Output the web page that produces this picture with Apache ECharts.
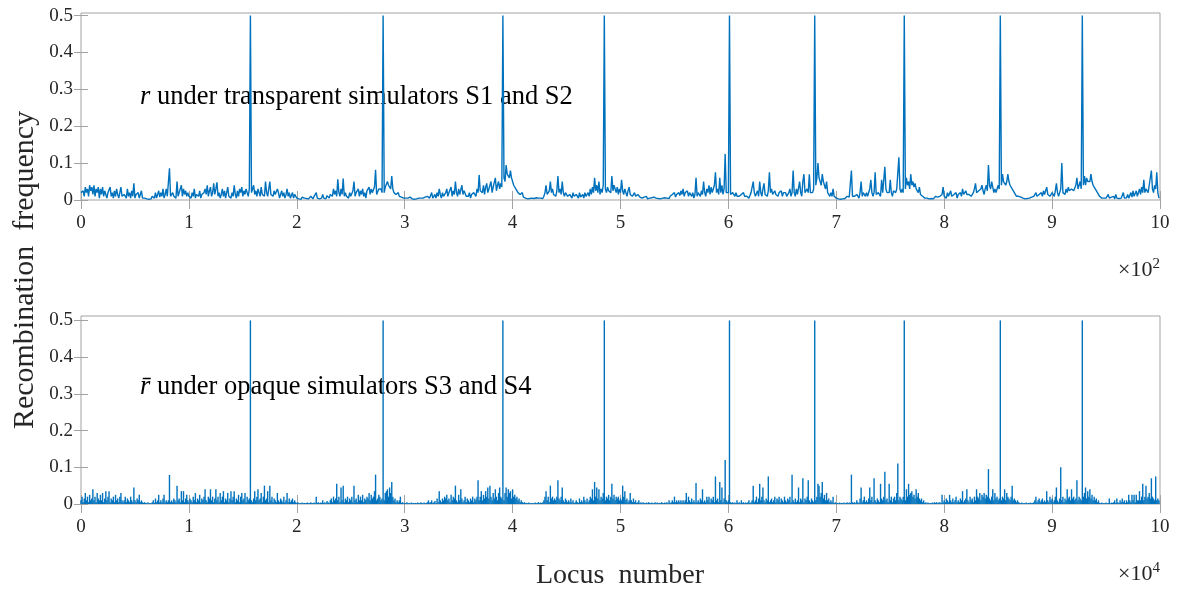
<!DOCTYPE html>
<html>
<head>
<meta charset="utf-8">
<script src="https://cdn.jsdelivr.net/npm/echarts@6/dist/echarts.min.js"></script>
<style>
  html, body { margin: 0; padding: 0; background: #fff; }
  #chart { width: 1185px; height: 589px; }
</style>
</head>
<body>
<div id="chart"></div>
<script>
// r per locus, panel 1 (loci 0..999)
var topValues = [
  0.02, 0.015, 0.025, 0.01, 0.035, 0.02, 0.03, 0.01, 0.04, 0.025, 0.035, 0.015, 0.04, 0.01, 0.03, 0.02, 0.035, 0.005, 0.03, 0.015,
  0.035, 0.01, 0.025, 0.03, 0.005, 0.02, 0.015, 0.035, 0.01, 0.02, 0.005, 0.025, 0.01, 0.03, 0.015, 0.005, 0.02, 0.035, 0.01, 0.005,
  0.015, 0.02, 0.005, 0.03, 0.01, 0.02, 0.005, 0.025, 0.01, 0.045, 0.005, 0.015, 0.01, 0.02, 0.005, 0.01, 0.025, 0.005, 0.01, 0.005,
  0.01, 0.003, 0.005, 0.002, 0.005, 0.003, 0.01, 0.015, 0.005, 0.02, 0.005, 0.01, 0.025, 0.008, 0.02, 0.01, 0.03, 0.005, 0.015, 0.03,
  0.01, 0.005, 0.086, 0.01, 0.005, 0.02, 0.01, 0.015, 0.005, 0.05, 0.01, 0.02, 0.015, 0.04, 0.01, 0.03, 0.015, 0.025, 0.01, 0.02,
  0.01, 0.015, 0.005, 0.02, 0.01, 0.03, 0.005, 0.015, 0.02, 0.01, 0.025, 0.005, 0.015, 0.01, 0.02, 0.03, 0.015, 0.04, 0.01, 0.025,
  0.035, 0.01, 0.02, 0.045, 0.015, 0.03, 0.048, 0.01, 0.02, 0.005, 0.015, 0.03, 0.01, 0.025, 0.005, 0.02, 0.035, 0.01, 0.015, 0.005,
  0.02, 0.01, 0.04, 0.015, 0.005, 0.025, 0.01, 0.03, 0.02, 0.035, 0.01, 0.025, 0.015, 0.03, 0.02, 0.01, 0.03, 0.5, 0.02, 0.03,
  0.04, 0.015, 0.025, 0.01, 0.03, 0.02, 0.01, 0.035, 0.015, 0.02, 0.01, 0.05, 0.02, 0.01, 0.03, 0.05, 0.015, 0.02, 0.01, 0.025,
  0.015, 0.01, 0.03, 0.02, 0.005, 0.015, 0.025, 0.01, 0.02, 0.005, 0.015, 0.03, 0.01, 0.02, 0.005, 0.01, 0.02, 0.005, 0.015, 0.01,
  0.005, 0.01, 0.003, 0.005, 0.002, 0.008, 0.003, 0.005, 0.002, 0.004, 0.008, 0.003, 0.005, 0.01, 0.005, 0.003, 0.01, 0.005, 0.02, 0.005,
  0.01, 0.003, 0.008, 0.005, 0.015, 0.005, 0.01, 0.003, 0.012, 0.008, 0.005, 0.015, 0.02, 0.01, 0.03, 0.015, 0.025, 0.01, 0.056, 0.02,
  0.01, 0.03, 0.015, 0.058, 0.01, 0.02, 0.01, 0.015, 0.005, 0.02, 0.01, 0.015, 0.025, 0.05, 0.01, 0.02, 0.015, 0.03, 0.01, 0.025,
  0.015, 0.03, 0.01, 0.02, 0.005, 0.025, 0.02, 0.035, 0.015, 0.03, 0.02, 0.025, 0.035, 0.082, 0.015, 0.02, 0.03, 0.025, 0.03, 0.02,
  0.5, 0.02, 0.035, 0.03, 0.05, 0.04, 0.045, 0.03, 0.065, 0.03, 0.02, 0.025, 0.015, 0.02, 0.02, 0.01, 0.015, 0.008, 0.01, 0.005,
  0.008, 0.005, 0.01, 0.005, 0.003, 0.008, 0.005, 0.003, 0.005, 0.002, 0.005, 0.003, 0.008, 0.005, 0.003, 0.005, 0.01, 0.005, 0.003, 0.008,
  0.005, 0.01, 0.015, 0.005, 0.01, 0.02, 0.005, 0.01, 0.015, 0.005, 0.02, 0.01, 0.03, 0.015, 0.005, 0.02, 0.01, 0.015, 0.02, 0.03,
  0.01, 0.02, 0.015, 0.035, 0.01, 0.025, 0.015, 0.05, 0.02, 0.01, 0.03, 0.015, 0.02, 0.04, 0.015, 0.025, 0.02, 0.01, 0.015, 0.01,
  0.02, 0.005, 0.015, 0.01, 0.02, 0.015, 0.01, 0.03, 0.02, 0.068, 0.025, 0.03, 0.02, 0.04, 0.015, 0.035, 0.045, 0.02, 0.03, 0.025,
  0.05, 0.02, 0.035, 0.03, 0.06, 0.025, 0.04, 0.05, 0.03, 0.045, 0.035, 0.5, 0.06, 0.05, 0.095, 0.07, 0.07, 0.06, 0.08, 0.06,
  0.05, 0.04, 0.045, 0.03, 0.035, 0.02, 0.025, 0.015, 0.01, 0.02, 0.008, 0.01, 0.005, 0.008, 0.003, 0.005, 0.004, 0.003, 0.005, 0.002,
  0.004, 0.003, 0.006, 0.003, 0.005, 0.002, 0.005, 0.008, 0.004, 0.01, 0.02, 0.04, 0.015, 0.01, 0.025, 0.05, 0.02, 0.03, 0.015, 0.02,
  0.01, 0.025, 0.065, 0.02, 0.03, 0.015, 0.05, 0.02, 0.01, 0.02, 0.015, 0.01, 0.005, 0.015, 0.01, 0.005, 0.02, 0.01, 0.005, 0.015,
  0.01, 0.005, 0.02, 0.008, 0.01, 0.015, 0.005, 0.02, 0.01, 0.015, 0.02, 0.01, 0.03, 0.015, 0.035, 0.02, 0.06, 0.025, 0.04, 0.02,
  0.05, 0.015, 0.03, 0.02, 0.04, 0.5, 0.03, 0.02, 0.035, 0.025, 0.03, 0.02, 0.065, 0.025, 0.04, 0.03, 0.02, 0.035, 0.015, 0.03,
  0.02, 0.055, 0.025, 0.015, 0.03, 0.02, 0.01, 0.025, 0.035, 0.015, 0.02, 0.01, 0.015, 0.02, 0.01, 0.005, 0.015, 0.01, 0.008, 0.012,
  0.005, 0.01, 0.008, 0.005, 0.01, 0.003, 0.008, 0.005, 0.003, 0.006, 0.004, 0.008, 0.003, 0.005, 0.01, 0.004, 0.006, 0.003, 0.008, 0.005,
  0.003, 0.006, 0.01, 0.005, 0.008, 0.004, 0.01, 0.006, 0.015, 0.01, 0.02, 0.008, 0.015, 0.01, 0.02, 0.012, 0.025, 0.015, 0.03, 0.01,
  0.02, 0.015, 0.025, 0.01, 0.02, 0.015, 0.01, 0.02, 0.005, 0.015, 0.06, 0.01, 0.02, 0.015, 0.01, 0.025, 0.015, 0.05, 0.02, 0.01,
  0.03, 0.02, 0.04, 0.015, 0.035, 0.02, 0.03, 0.04, 0.075, 0.02, 0.03, 0.015, 0.06, 0.02, 0.04, 0.015, 0.03, 0.125, 0.02, 0.015,
  0.02, 0.5, 0.015, 0.01, 0.02, 0.015, 0.01, 0.02, 0.01, 0.005, 0.01, 0.008, 0.015, 0.01, 0.02, 0.01, 0.005, 0.01, 0.015, 0.005,
  0.01, 0.02, 0.015, 0.05, 0.02, 0.01, 0.015, 0.025, 0.01, 0.05, 0.02, 0.01, 0.03, 0.045, 0.015, 0.02, 0.01, 0.025, 0.075, 0.02,
  0.03, 0.015, 0.02, 0.025, 0.015, 0.02, 0.01, 0.02, 0.015, 0.025, 0.01, 0.02, 0.015, 0.02, 0.01, 0.015, 0.02, 0.03, 0.01, 0.02,
  0.08, 0.02, 0.01, 0.03, 0.015, 0.02, 0.05, 0.02, 0.01, 0.05, 0.07, 0.02, 0.015, 0.03, 0.02, 0.07, 0.02, 0.015, 0.02, 0.03,
  0.5, 0.04, 0.06, 0.1, 0.06, 0.05, 0.04, 0.07, 0.05, 0.04, 0.03, 0.05, 0.02, 0.015, 0.01, 0.02, 0.01, 0.03, 0.01, 0.005,
  0.005, 0.008, 0.003, 0.005, 0.002, 0.005, 0.003, 0.006, 0.004, 0.005, 0.01, 0.005, 0.008, 0.01, 0.08, 0.01, 0.005, 0.01, 0.005, 0.015,
  0.01, 0.005, 0.02, 0.05, 0.01, 0.02, 0.015, 0.01, 0.02, 0.01, 0.015, 0.03, 0.055, 0.02, 0.01, 0.02, 0.075, 0.015, 0.01, 0.02,
  0.02, 0.01, 0.055, 0.02, 0.015, 0.09, 0.03, 0.02, 0.015, 0.02, 0.055, 0.02, 0.01, 0.025, 0.03, 0.02, 0.03, 0.025, 0.116, 0.03,
  0.02, 0.03, 0.02, 0.5, 0.03, 0.06, 0.04, 0.05, 0.03, 0.07, 0.04, 0.05, 0.035, 0.045, 0.03, 0.035, 0.02, 0.035, 0.015, 0.02,
  0.01, 0.015, 0.005, 0.01, 0.005, 0.008, 0.003, 0.005, 0.004, 0.006, 0.003, 0.005, 0.01, 0.005, 0.008, 0.004, 0.01, 0.005, 0.015, 0.035,
  0.01, 0.015, 0.005, 0.02, 0.01, 0.015, 0.025, 0.01, 0.005, 0.015, 0.01, 0.02, 0.005, 0.015, 0.01, 0.02, 0.01, 0.03, 0.015, 0.01,
  0.025, 0.015, 0.01, 0.015, 0.02, 0.01, 0.015, 0.02, 0.03, 0.045, 0.02, 0.015, 0.025, 0.02, 0.03, 0.04, 0.025, 0.015, 0.03, 0.04,
  0.025, 0.095, 0.04, 0.03, 0.05, 0.035, 0.02, 0.03, 0.02, 0.03, 0.04, 0.03, 0.5, 0.04, 0.07, 0.05, 0.05, 0.04, 0.05, 0.07,
  0.05, 0.04, 0.045, 0.03, 0.025, 0.02, 0.015, 0.01, 0.015, 0.01, 0.005, 0.008, 0.003, 0.005, 0.004, 0.003, 0.006, 0.004, 0.003, 0.005,
  0.004, 0.008, 0.005, 0.01, 0.005, 0.02, 0.01, 0.005, 0.015, 0.01, 0.02, 0.01, 0.025, 0.015, 0.01, 0.035, 0.015, 0.02, 0.01, 0.015,
  0.02, 0.015, 0.01, 0.025, 0.045, 0.02, 0.01, 0.02, 0.03, 0.1, 0.02, 0.025, 0.015, 0.03, 0.02, 0.035, 0.025, 0.02, 0.03, 0.035,
  0.025, 0.03, 0.04, 0.06, 0.03, 0.04, 0.05, 0.03, 0.5, 0.04, 0.065, 0.04, 0.06, 0.05, 0.05, 0.05, 0.07, 0.05, 0.04, 0.035,
  0.03, 0.025, 0.02, 0.015, 0.01, 0.008, 0.005, 0.003, 0.005, 0.002, 0.005, 0.004, 0.015, 0.005, 0.003, 0.008, 0.005, 0.01, 0.003, 0.015,
  0.005, 0.01, 0.004, 0.008, 0.005, 0.01, 0.02, 0.005, 0.01, 0.006, 0.015, 0.005, 0.01, 0.02, 0.008, 0.025, 0.01, 0.015, 0.025, 0.01,
  0.02, 0.03, 0.015, 0.035, 0.02, 0.055, 0.02, 0.03, 0.03, 0.02, 0.04, 0.045, 0.08, 0.03, 0.02, 0.04, 0.03, 0.075, 0.02, 0.005
];

// r-bar, panel 2: one value per 100 loci (loci 0..99900)
var bottomValues = [
  0.01, 0.02, 0.005, 0.015, 0.03, 0.01, 0.02, 0.005, 0.025, 0.01, 0.015, 0.04, 0.01, 0.02, 0.005, 0.03, 0.015, 0.01, 0.025, 0.01,
  0.03, 0.005, 0.015, 0.035, 0.01, 0.02, 0.035, 0.005, 0.015, 0.01, 0.02, 0.005, 0.025, 0.01, 0.015, 0.005, 0.02, 0.03, 0.01, 0.005,
  0.01, 0.02, 0.005, 0.015, 0.01, 0.005, 0.02, 0.01, 0.005, 0.045, 0.01, 0.005, 0.015, 0.01, 0.025, 0.005, 0.01, 0.005, 0.003, 0.005,
  0.003, 0.002, 0.005, 0.002, 0.003, 0.002, 0.005, 0.01, 0.003, 0.015, 0.005, 0.01, 0.025, 0.005, 0.01, 0.005, 0.015, 0.025, 0.005, 0.01,
  0.005, 0.01, 0.079, 0.005, 0.01, 0.005, 0.015, 0.01, 0.005, 0.05, 0.01, 0.015, 0.005, 0.035, 0.01, 0.035, 0.005, 0.015, 0.025, 0.01,
  0.005, 0.015, 0.01, 0.005, 0.02, 0.01, 0.03, 0.005, 0.015, 0.01, 0.025, 0.005, 0.015, 0.01, 0.02, 0.04, 0.01, 0.005, 0.02, 0.015,
  0.04, 0.01, 0.02, 0.005, 0.015, 0.04, 0.01, 0.02, 0.005, 0.03, 0.01, 0.02, 0.035, 0.005, 0.015, 0.01, 0.03, 0.005, 0.015, 0.035,
  0.01, 0.02, 0.035, 0.005, 0.015, 0.01, 0.025, 0.005, 0.02, 0.03, 0.01, 0.015, 0.03, 0.005, 0.02, 0.01, 0.015, 0.5, 0.01, 0.005,
  0.015, 0.035, 0.01, 0.02, 0.04, 0.01, 0.015, 0.03, 0.005, 0.02, 0.05, 0.01, 0.015, 0.035, 0.005, 0.05, 0.01, 0.02, 0.005, 0.015,
  0.01, 0.005, 0.03, 0.01, 0.005, 0.015, 0.01, 0.005, 0.02, 0.005, 0.01, 0.03, 0.005, 0.015, 0.005, 0.01, 0.015, 0.005, 0.01, 0.005,
  0.003, 0.005, 0.002, 0.003, 0.002, 0.004, 0.002, 0.003, 0.002, 0.003, 0.004, 0.002, 0.003, 0.005, 0.002, 0.003, 0.004, 0.002, 0.02, 0.003,
  0.005, 0.002, 0.004, 0.003, 0.01, 0.003, 0.005, 0.002, 0.008, 0.005, 0.003, 0.01, 0.015, 0.005, 0.02, 0.01, 0.015, 0.055, 0.01, 0.02,
  0.005, 0.045, 0.01, 0.05, 0.005, 0.015, 0.01, 0.02, 0.005, 0.015, 0.01, 0.02, 0.005, 0.05, 0.01, 0.015, 0.005, 0.025, 0.01, 0.02,
  0.01, 0.025, 0.005, 0.015, 0.01, 0.02, 0.015, 0.03, 0.01, 0.025, 0.015, 0.02, 0.035, 0.08, 0.01, 0.015, 0.025, 0.02, 0.01, 0.015,
  0.5, 0.01, 0.03, 0.035, 0.04, 0.02, 0.045, 0.03, 0.06, 0.02, 0.01, 0.015, 0.005, 0.01, 0.005, 0.01, 0.02, 0.003, 0.005, 0.002,
  0.003, 0.002, 0.005, 0.002, 0.003, 0.002, 0.004, 0.002, 0.003, 0.002, 0.003, 0.002, 0.004, 0.003, 0.002, 0.005, 0.003, 0.002, 0.004, 0.002,
  0.003, 0.005, 0.01, 0.003, 0.005, 0.01, 0.003, 0.005, 0.008, 0.003, 0.015, 0.005, 0.035, 0.01, 0.005, 0.015, 0.01, 0.02, 0.015, 0.025,
  0.01, 0.015, 0.005, 0.025, 0.01, 0.02, 0.015, 0.05, 0.01, 0.005, 0.025, 0.01, 0.04, 0.015, 0.005, 0.01, 0.02, 0.005, 0.015, 0.01,
  0.005, 0.015, 0.01, 0.02, 0.005, 0.015, 0.01, 0.02, 0.065, 0.01, 0.02, 0.035, 0.01, 0.025, 0.015, 0.035, 0.02, 0.045, 0.015, 0.05,
  0.02, 0.01, 0.03, 0.015, 0.04, 0.02, 0.01, 0.03, 0.045, 0.02, 0.015, 0.5, 0.01, 0.03, 0.045, 0.02, 0.04, 0.03, 0.035, 0.015,
  0.04, 0.02, 0.025, 0.015, 0.02, 0.01, 0.015, 0.005, 0.01, 0.005, 0.003, 0.005, 0.002, 0.003, 0.002, 0.004, 0.002, 0.003, 0.002, 0.003,
  0.002, 0.004, 0.002, 0.003, 0.005, 0.002, 0.004, 0.003, 0.005, 0.01, 0.02, 0.035, 0.01, 0.02, 0.005, 0.05, 0.015, 0.02, 0.01, 0.015,
  0.01, 0.02, 0.065, 0.015, 0.01, 0.02, 0.045, 0.01, 0.005, 0.015, 0.01, 0.005, 0.01, 0.005, 0.015, 0.005, 0.01, 0.003, 0.005, 0.01,
  0.005, 0.003, 0.015, 0.005, 0.01, 0.005, 0.02, 0.01, 0.005, 0.015, 0.005, 0.01, 0.02, 0.015, 0.04, 0.01, 0.06, 0.02, 0.045, 0.015,
  0.04, 0.01, 0.02, 0.015, 0.03, 0.5, 0.01, 0.02, 0.015, 0.025, 0.01, 0.02, 0.055, 0.015, 0.025, 0.01, 0.02, 0.015, 0.02, 0.01,
  0.015, 0.01, 0.05, 0.02, 0.035, 0.01, 0.015, 0.005, 0.01, 0.03, 0.01, 0.005, 0.015, 0.005, 0.01, 0.003, 0.005, 0.01, 0.003, 0.005,
  0.002, 0.005, 0.003, 0.002, 0.004, 0.002, 0.005, 0.003, 0.002, 0.004, 0.002, 0.003, 0.005, 0.002, 0.004, 0.002, 0.003, 0.002, 0.005, 0.003,
  0.002, 0.004, 0.003, 0.005, 0.002, 0.01, 0.003, 0.005, 0.01, 0.005, 0.02, 0.005, 0.01, 0.005, 0.01, 0.005, 0.01, 0.005, 0.01, 0.005,
  0.01, 0.03, 0.005, 0.02, 0.01, 0.005, 0.015, 0.005, 0.01, 0.005, 0.057, 0.005, 0.01, 0.005, 0.015, 0.01, 0.04, 0.005, 0.01, 0.005,
  0.02, 0.01, 0.02, 0.005, 0.015, 0.01, 0.02, 0.005, 0.075, 0.01, 0.015, 0.005, 0.06, 0.01, 0.045, 0.005, 0.015, 0.12, 0.01, 0.005,
  0.01, 0.5, 0.005, 0.003, 0.005, 0.002, 0.004, 0.003, 0.01, 0.003, 0.005, 0.002, 0.01, 0.003, 0.005, 0.002, 0.004, 0.003, 0.005, 0.01,
  0.003, 0.005, 0.01, 0.05, 0.005, 0.01, 0.02, 0.005, 0.015, 0.055, 0.01, 0.02, 0.045, 0.01, 0.005, 0.015, 0.01, 0.075, 0.005, 0.01,
  0.015, 0.005, 0.01, 0.02, 0.005, 0.015, 0.01, 0.02, 0.005, 0.015, 0.01, 0.005, 0.02, 0.01, 0.005, 0.015, 0.01, 0.02, 0.005, 0.08,
  0.01, 0.005, 0.015, 0.005, 0.01, 0.045, 0.005, 0.015, 0.01, 0.07, 0.005, 0.015, 0.01, 0.02, 0.065, 0.01, 0.005, 0.015, 0.01, 0.005,
  0.5, 0.01, 0.02, 0.055, 0.05, 0.02, 0.03, 0.06, 0.015, 0.025, 0.01, 0.03, 0.01, 0.015, 0.005, 0.01, 0.005, 0.02, 0.003, 0.005,
  0.002, 0.003, 0.002, 0.004, 0.002, 0.003, 0.002, 0.004, 0.002, 0.003, 0.005, 0.002, 0.004, 0.003, 0.08, 0.005, 0.003, 0.005, 0.002, 0.01,
  0.005, 0.003, 0.015, 0.045, 0.005, 0.01, 0.02, 0.005, 0.01, 0.005, 0.015, 0.045, 0.01, 0.02, 0.005, 0.07, 0.01, 0.005, 0.015, 0.01,
  0.005, 0.055, 0.015, 0.01, 0.02, 0.088, 0.01, 0.015, 0.005, 0.055, 0.01, 0.02, 0.005, 0.015, 0.02, 0.01, 0.03, 0.11, 0.01, 0.02,
  0.015, 0.01, 0.02, 0.5, 0.01, 0.04, 0.02, 0.055, 0.025, 0.03, 0.035, 0.02, 0.025, 0.015, 0.04, 0.02, 0.03, 0.015, 0.01, 0.015,
  0.005, 0.01, 0.003, 0.005, 0.002, 0.004, 0.002, 0.003, 0.002, 0.004, 0.002, 0.005, 0.003, 0.005, 0.002, 0.004, 0.005, 0.003, 0.025, 0.005,
  0.01, 0.005, 0.015, 0.01, 0.005, 0.025, 0.01, 0.005, 0.015, 0.005, 0.01, 0.02, 0.005, 0.01, 0.005, 0.015, 0.01, 0.035, 0.005, 0.01,
  0.015, 0.04, 0.01, 0.005, 0.02, 0.01, 0.015, 0.005, 0.02, 0.01, 0.04, 0.02, 0.015, 0.03, 0.01, 0.025, 0.02, 0.03, 0.015, 0.025,
  0.02, 0.095, 0.015, 0.01, 0.02, 0.04, 0.01, 0.03, 0.015, 0.02, 0.01, 0.015, 0.5, 0.01, 0.02, 0.015, 0.04, 0.01, 0.03, 0.02,
  0.015, 0.01, 0.02, 0.05, 0.01, 0.015, 0.01, 0.005, 0.01, 0.005, 0.003, 0.002, 0.004, 0.002, 0.003, 0.002, 0.004, 0.002, 0.003, 0.002,
  0.004, 0.002, 0.003, 0.005, 0.01, 0.02, 0.005, 0.01, 0.015, 0.005, 0.01, 0.015, 0.005, 0.01, 0.005, 0.035, 0.01, 0.005, 0.02, 0.01,
  0.015, 0.005, 0.01, 0.02, 0.045, 0.01, 0.005, 0.015, 0.1, 0.01, 0.02, 0.005, 0.015, 0.01, 0.04, 0.015, 0.02, 0.01, 0.04, 0.015,
  0.02, 0.01, 0.015, 0.065, 0.01, 0.02, 0.015, 0.01, 0.5, 0.02, 0.03, 0.045, 0.015, 0.035, 0.02, 0.04, 0.015, 0.025, 0.01, 0.02,
  0.01, 0.015, 0.005, 0.01, 0.003, 0.002, 0.004, 0.002, 0.003, 0.002, 0.004, 0.002, 0.003, 0.015, 0.002, 0.004, 0.003, 0.005, 0.01, 0.003,
  0.015, 0.005, 0.003, 0.01, 0.005, 0.015, 0.005, 0.01, 0.003, 0.01, 0.005, 0.025, 0.01, 0.005, 0.025, 0.01, 0.025, 0.005, 0.025, 0.01,
  0.01, 0.035, 0.01, 0.02, 0.055, 0.01, 0.02, 0.05, 0.015, 0.02, 0.03, 0.015, 0.07, 0.02, 0.015, 0.01, 0.075, 0.01, 0.015, 0.01
];

var xTickLabels = ['0', '1', '2', '3', '4', '5', '6', '7', '8', '9', '10'];
var yTicks = [0, 0.1, 0.2, 0.3, 0.4, 0.5];
var topXTicks = [0, 100, 200, 300, 400, 500, 600, 700, 800, 900, 1000];
var bottomXTicks = [0, 10000, 20000, 30000, 40000, 50000, 60000, 70000, 80000, 90000, 100000];

var chart = echarts.init(document.getElementById('chart'));

var serif = 'Liberation Serif';
var axisGray = '#a3a3a3';
var textColor = '#262626';
var blue = '#0072BD';

function xAxisPair(gridIndex, max, ticks, step) {
  var bottom = {
    type: 'value', gridIndex: gridIndex, position: 'bottom',
    min: 0, max: max,
    axisLine: { show: false },
    axisTick: { show: true, inside: true, length: 9, customValues: ticks, lineStyle: { color: axisGray } },
    axisLabel: {
      show: true, customValues: ticks, margin: 14,
      fontFamily: serif, fontSize: 19, color: textColor,
      formatter: function (v) { return xTickLabels[Math.round(v / step)]; }
    },
    splitLine: { show: false }
  };
  var top = {
    type: 'value', gridIndex: gridIndex, position: 'top',
    min: 0, max: max,
    axisLine: { show: false },
    axisTick: { show: true, inside: true, length: 9, customValues: ticks, lineStyle: { color: axisGray } },
    axisLabel: { show: false },
    splitLine: { show: false }
  };
  return [bottom, top];
}

function yAxisPair(gridIndex, max) {
  var left = {
    type: 'value', gridIndex: gridIndex, position: 'left',
    min: 0, max: max,
    axisLine: { show: false },
    axisTick: { show: true, inside: true, length: 7, customValues: yTicks, lineStyle: { color: axisGray } },
    axisLabel: {
      show: true, customValues: yTicks, margin: 8,
      fontFamily: serif, fontSize: 19, color: textColor,
      formatter: function (v) { return v === 0 ? '0' : v.toFixed(1); }
    },
    splitLine: { show: false }
  };
  var right = {
    type: 'value', gridIndex: gridIndex, position: 'right',
    min: 0, max: max,
    axisLine: { show: false },
    axisTick: { show: true, inside: true, length: 7, customValues: yTicks, lineStyle: { color: axisGray } },
    axisLabel: { show: false },
    splitLine: { show: false }
  };
  return [left, right];
}

var option = {
  backgroundColor: '#fff',
  animation: false,
  grid: [
    { left: 81, right: 25, top: 13, height: 187, show: true, borderColor: axisGray, borderWidth: 1 },
    { left: 81, right: 25, top: 316, height: 188, show: true, borderColor: axisGray, borderWidth: 1 }
  ],
  xAxis: xAxisPair(0, 1000, topXTicks, 100).concat(xAxisPair(1, 100000, bottomXTicks, 10000)),
  yAxis: yAxisPair(0, 0.507).concat(yAxisPair(1, 0.512)),
  series: [
    {
      type: 'line',
      xAxisIndex: 0, yAxisIndex: 0,
      data: topValues.map(function (v, i) { return [i, v]; }),
      showSymbol: false,
      sampling: 'none',
      lineStyle: { color: blue, width: 1.4 },
      z: 3
    },
    {
      type: 'bar',
      xAxisIndex: 2, yAxisIndex: 2,
      data: bottomValues.map(function (v, i) { return [i * 100, v]; }),
      barWidth: 1.4,
      itemStyle: { color: blue },
      z: 3
    }
  ],
  graphic: [
    {
      type: 'text', left: 140, top: 84, z: 1,
      style: {
        text: '{i|r} under transparent simulators S1 and S2',
        fontFamily: serif, fontSize: 26.5, fill: '#000',
        rich: { i: { fontFamily: serif, fontSize: 26.5, fontStyle: 'italic', fill: '#000' } }
      }
    },
    {
      type: 'text', left: 140, top: 374, z: 1,
      style: {
        text: '{i|r\u0304} under opaque simulators S3 and S4',
        fontFamily: serif, fontSize: 26.5, fill: '#000',
        rich: { i: { fontFamily: serif, fontSize: 26.5, fontStyle: 'italic', fill: '#000' } }
      }
    },
    {
      type: 'text', right: 25, top: 257,
      style: {
        text: '\u00d710{s|2}',
        fontFamily: serif, fontSize: 22, fill: textColor,
        rich: { s: { fontFamily: serif, fontSize: 15, fill: textColor, verticalAlign: 'top', padding: [0, 0, 12, 0] } }
      }
    },
    {
      type: 'text', right: 25, top: 561,
      style: {
        text: '\u00d710{s|4}',
        fontFamily: serif, fontSize: 22, fill: textColor,
        rich: { s: { fontFamily: serif, fontSize: 15, fill: textColor, verticalAlign: 'top', padding: [0, 0, 12, 0] } }
      }
    },
    {
      type: 'text', x: 25, y: 270, rotation: Math.PI / 2,
      style: {
        text: 'Recombination  frequency',
        fontFamily: serif, fontSize: 30, fill: textColor,
        align: 'center', verticalAlign: 'middle'
      }
    },
    {
      type: 'text', x: 620, y: 576,
      style: {
        text: 'Locus  number',
        fontFamily: serif, fontSize: 28, fill: textColor,
        align: 'center', verticalAlign: 'middle'
      }
    }
  ]
};

chart.setOption(option);
</script>
</body>
</html>
